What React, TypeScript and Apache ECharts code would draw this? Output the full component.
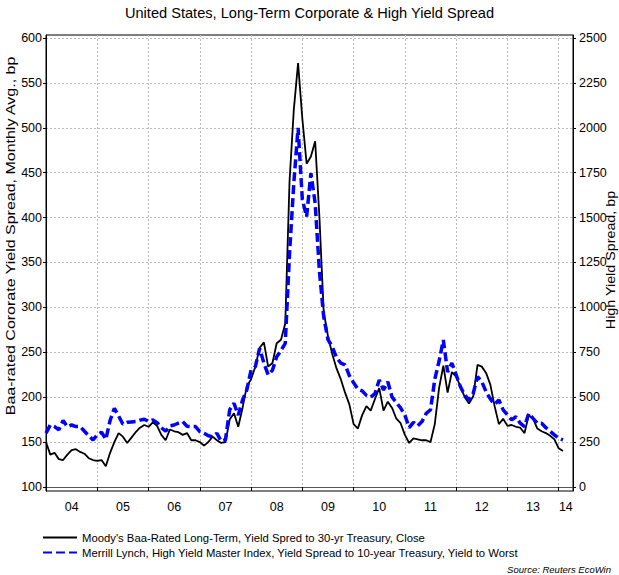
import React, { useEffect, useRef } from "react";
import * as echarts from "echarts";

// Monthly observations, Jan 2004 .. Feb 2014
const startYear = 2004;

// Moody's Baa-rated long-term spread to 30-yr Treasury (bp, left axis)
const baaSpread = [
  150, 136, 138, 131, 130, 136, 141, 142, 139, 137, 132, 130,
  129, 130, 123, 138, 150, 160, 156, 149, 155, 161, 166, 169,
  167, 172, 168, 158, 152, 164, 162, 161, 158, 160, 152, 152,
  150, 146, 150, 156, 152, 149, 150, 175, 182, 167, 188, 212,
  220, 234, 255, 261, 234, 238, 260, 264, 282, 440, 520, 572,
  510, 460, 468, 485, 400, 295, 268, 248, 232, 220, 205, 192,
  170, 165, 180, 190, 185, 198, 210, 185, 195, 188, 176, 171,
  158, 149, 154, 153, 152, 152, 150, 170, 210, 235, 205, 228,
  223, 212, 200, 193, 201, 236, 234, 227, 214, 190, 170, 176,
  168, 169, 167, 166, 160, 180, 176, 165, 162, 160, 157, 153,
  143, 140,
];

// Merrill Lynch High Yield Master index spread to 10-yr Treasury (bp, right axis)
const hySpread = [
  300, 345, 336, 318, 370, 336, 345, 336, 336, 310, 285, 262,
  290, 305, 265, 370, 438, 395, 350, 360, 362, 364, 372, 377,
  365, 373, 358, 330, 310, 340, 345, 355, 364, 338, 336, 336,
  308, 299, 285, 280, 299, 255, 262, 430, 466, 400, 484, 540,
  651, 670, 772, 690, 624, 650, 725, 760, 800, 1300, 1691, 2000,
  1600, 1505, 1747, 1580, 1200, 948, 820, 781, 720, 690, 680, 620,
  580, 545, 535, 510, 500, 520, 596, 540, 586, 500, 470, 440,
  400, 330, 360, 340, 364, 410, 430, 600, 700, 818, 640, 690,
  624, 558, 512, 484, 522, 614, 586, 530, 490, 460, 484, 429,
  401, 373, 391, 355, 336, 410, 382, 355, 355, 330, 310, 290,
  271, 262,
];

const leftTicks = [100, 150, 200, 250, 300, 350, 400, 450, 500, 550, 600];
const rightTicks = [0, 250, 500, 750, 1000, 1250, 1500, 1750, 2000, 2250, 2500];
const yearTicks = [2004, 2005, 2006, 2007, 2008, 2009, 2010, 2011, 2012, 2013, 2014];
const yearLabelValues = [
  2004.5, 2005.5, 2006.5, 2007.5, 2008.5, 2009.5, 2010.5, 2011.5, 2012.5, 2013.5, 2014.14,
];

const baaName = "Moody's Baa-Rated Long-Term, Yield Spred to 30-yr Treasury, Close";
const hyName =
  "Merrill Lynch, High Yield Master Index, Yield Spread to 10-year Treasury, Yield to Worst";
const leftAxisName = "Baa-rated Cororate Yield Spread, Monthly Avg., bp";
const rightAxisName = "High Yield Spread, bp";

const sans = "'Liberation Sans', Arial, sans-serif";

export default function App() {
  const ref = useRef<HTMLDivElement>(null);

  useEffect(() => {
    if (!ref.current) return;
    const chart = echarts.init(ref.current, null, { renderer: "svg" });
    const toX = (i: number) => startYear + i / 12;

    chart.setOption({
      animation: false,
      backgroundColor: "#ffffff",
      textStyle: { fontFamily: sans },
      title: {
        text: "United States, Long-Term Corporate & High Yield Spread",
        left: "center",
        top: 5,
        padding: 0,
        textStyle: { fontSize: 14.6, fontWeight: "normal", color: "#000", fontFamily: sans },
      },
      grid: {
        left: 46,
        right: 46,
        top: 35,
        bottom: 84,
        show: true,
        borderColor: "#000",
        borderWidth: 1,
        outerBoundsMode: "none",
        containLabel: false,
      },
      legend: {
        orient: "vertical",
        left: 42,
        top: 532,
        padding: 0,
        itemWidth: 34,
        itemHeight: 12,
        itemGap: 4,
        itemStyle: { opacity: 0 },
        textStyle: { fontSize: 11.3, color: "#000", fontFamily: sans },
        data: [baaName, hyName],
      },
      xAxis: {
        type: "value",
        min: 2004,
        max: 2014.279,
        axisLine: { show: true, lineStyle: { color: "#555", width: 1 } },
        axisTick: {
          show: true,
          customValues: yearTicks,
          length: 4,
          lineStyle: { color: "#000" },
        },
        axisLabel: {
          customValues: yearLabelValues,
          formatter: (v: number) => String(Math.floor(v + 1e-6) % 100).padStart(2, "0"),
          fontSize: 12.5,
          color: "#000",
          margin: 9,
        },
        splitLine: { show: true, lineStyle: { color: "#bbb", type: [2, 2], width: 1 } },
      },
      yAxis: [
        {
          type: "value",
          position: "left",
          min: 95.5,
          max: 603.3,
          axisLine: { show: true, lineStyle: { color: "#000" } },
          axisTick: { show: true, customValues: leftTicks, length: 3, lineStyle: { color: "#000" } },
          axisLabel: {
            customValues: leftTicks,
            fontSize: 12.5,
            color: "#000",
            margin: 4,
            formatter: (v: number) => String(v),
          },
          splitLine: { show: true, lineStyle: { color: "#bbb", type: [2, 2], width: 1 } },
        },
        {
          type: "value",
          position: "right",
          min: -22.5,
          max: 2516.5,
          axisLine: { show: true, lineStyle: { color: "#000" } },
          axisTick: { show: true, customValues: rightTicks, length: 3, lineStyle: { color: "#000" } },
          axisLabel: {
            customValues: rightTicks,
            fontSize: 12.5,
            color: "#000",
            margin: 6,
            formatter: (v: number) => String(v),
          },
          splitLine: { show: false },
        },
      ],
      series: [
        {
          name: baaName,
          type: "line",
          yAxisIndex: 0,
          symbol: "none",
          data: baaSpread.map((v, i) => [toX(i), v]),
          lineStyle: { color: "#000", width: 1.8 },
          itemStyle: { color: "#000" },
          z: 2,
        },
        {
          name: hyName,
          type: "line",
          yAxisIndex: 1,
          symbol: "none",
          data: hySpread.map((v, i) => [toX(i), v]),
          lineStyle: { color: "#0000ff", width: 3.5, type: [9, 4] },
          itemStyle: { color: "#0000ff" },
          z: 3,
        },
      ],
      graphic: [
        {
          type: "text",
          x: 11,
          y: 236,
          rotation: Math.PI / 2,
          scaleY: 0.8,
          style: {
            text: leftAxisName,
            font: "16px " + sans,
            fill: "#000",
            align: "center",
            verticalAlign: "middle",
          },
        },
        {
          type: "text",
          x: 611,
          y: 260,
          rotation: Math.PI / 2,
          scaleY: 0.85,
          style: {
            text: rightAxisName,
            font: "14.3px " + sans,
            fill: "#000",
            align: "center",
            verticalAlign: "middle",
          },
        },
        {
          type: "text",
          right: 8,
          bottom: 1,
          style: {
            text: "Source: Reuters EcoWin",
            font: "italic 9.5px " + sans,
            fill: "#000",
          },
        },
      ],
    });

    return () => chart.dispose();
  }, []);

  return (
    <div
      ref={ref}
      style={{ position: "absolute", left: 0, top: 0, width: 619, height: 575 }}
    />
  );
}
